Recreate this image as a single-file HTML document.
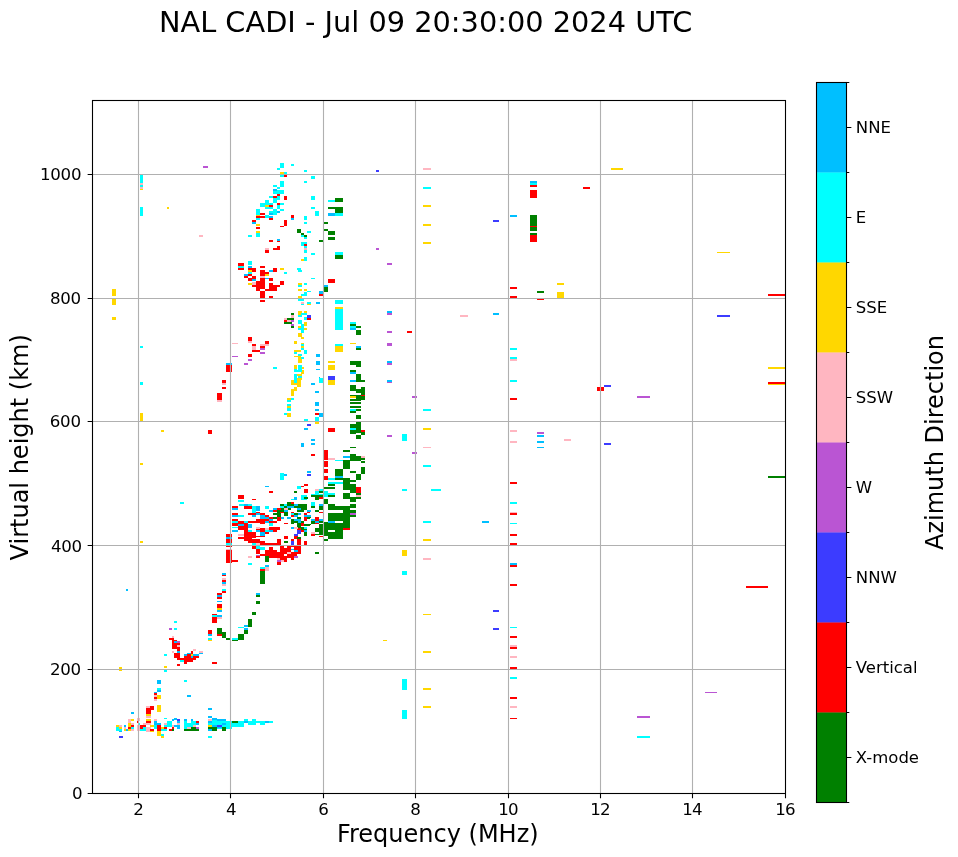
<!DOCTYPE html>
<html lang="en"><head><meta charset="utf-8"><title>NAL CADI ionogram</title>
<style>html,body{margin:0;padding:0;background:#fff}body{width:958px;height:857px;overflow:hidden}svg{display:block}text{font-family:"DejaVu Sans","Liberation Sans",sans-serif;fill:#000}</style></head><body>
<svg width="958" height="857" viewBox="0 0 958 857">
<rect width="958" height="857" fill="#fff"/>
<text x="425.6" y="32" font-size="28.8" text-anchor="middle">NAL CADI - Jul 09 20:30:00 2024 UTC</text>
<g shape-rendering="crispEdges">
<path fill="#00ffff" d="M116 727h6v4h-6z"/>
<path fill="#ffd700" d="M116 725h3v2h-3zM119 727h3v2h-3z"/>
<path fill="#ffb6c1" d="M119 725h3v2h-3z"/>
<path fill="#00bfff" d="M119 731h3v1h-3z"/>
<path fill="#3c3cff" d="M119 736h3.5v2h-3.5z"/>
<path fill="#00bfff" d="M124 725h2v2h-2zM125.5 729h2v2h-2z"/>
<path fill="#ffb6c1" d="M124 727h2v2h-2z"/>
<path fill="#ffd700" d="M124 729h2v2h-2z"/>
<path fill="#ffb6c1" d="M128 719h3v4h-3zM131 723h3v2h-3zM131 729h3v2h-3z"/>
<path fill="#ffd700" d="M131 719h3v2h-3zM128 723h3v4h-3zM128 729h3v2h-3z"/>
<path fill="#ff0000" d="M131 725h3v2h-3zM128 727h3v2h-3z"/>
<path fill="#00ffff" d="M131 727h3v2h-3z"/>
<path fill="#00bfff" d="M131 712h3v2h-3z"/>
<path fill="#ffb6c1" d="M137 718h3v3h-3zM137 725h3v6h-3zM143 723h3v2h-3z"/>
<path fill="#ff0000" d="M137 721h1.5v2h-1.5z"/>
<path fill="#00ffff" d="M138.5 723h1.5v2h-1.5z"/>
<path fill="#ff0000" d="M140 725h6v2h-6zM140 727h3v2h-3z"/>
<path fill="#00ffff" d="M143 727h3v4h-3zM140 729h3v2h-3z"/>
<path fill="#ffb6c1" d="M146 706h4.5v1.5h-4.5zM146 716h4.5v2h-4.5zM146 723h4.5v2h-4.5zM146 727h4.5v5h-4.5z"/>
<path fill="#ff0000" d="M146 707.5h4.5v6.5h-4.5zM150 706h4v4h-4zM146 721h4.5v2h-4.5zM150 729h4v2h-4z"/>
<path fill="#ffd700" d="M146 714h4.5v2h-4.5zM146 719h4.5v2h-4.5zM150 725h4v2h-4zM150 731h4v1h-4z"/>
<path fill="#00bfff" d="M154 692h3v1h-3zM157 690h4v2h-4z"/>
<path fill="#ff0000" d="M154 693h3v2h-3zM154 697h3v2h-3z"/>
<path fill="#ffb6c1" d="M154 695h3v2h-3zM154 699h3v2h-3z"/>
<path fill="#ffd700" d="M157 695h4v4h-4zM157 705h4v7h-4z"/>
<path fill="#ffb6c1" d="M154 719h3v2h-3z"/>
<path fill="#00bfff" d="M154 721h3v4h-3zM157 723h4v2h-4z"/>
<path fill="#00ffff" d="M154 725h3v4h-3z"/>
<path fill="#ff0000" d="M157 725h4v6h-4z"/>
<path fill="#ffd700" d="M157 731h4v5h-4zM161 736h3v2h-3zM161 727h3v2h-3z"/>
<path fill="#00ffff" d="M161 734h3v2h-3zM161 729h6v2h-6zM164 718h3v1h-3zM164 725h3v2h-3z"/>
<path fill="#ffb6c1" d="M164 723h3v2h-3z"/>
<path fill="#ff0000" d="M164 727h3v2h-3z"/>
<path fill="#00ffff" d="M167 721h5v6h-5z"/>
<path fill="#ff0000" d="M169 729h3v2h-3zM172 727h2v2h-2z"/>
<path fill="#008000" d="M172 729h2v2h-2z"/>
<path fill="#ffb6c1" d="M172 725h2v2h-2z"/>
<path fill="#00bfff" d="M172 719h2v2h-2zM174 718h3v1.5h-3z"/>
<path fill="#3c3cff" d="M177 719h3v2h-3z"/>
<path fill="#00bfff" d="M177 721h3v2h-3zM174 725h6v2h-6zM177 727h3v2h-3z"/>
<path fill="#ffb6c1" d="M177 723h3v2h-3z"/>
<path fill="#00bfff" d="M184 719h3v2h-3zM191 719h2v2h-2z"/>
<path fill="#00ffff" d="M184 721h3v8h-3zM187 723h4v4h-4zM191 721h5v4h-5zM191 725h2v4h-2z"/>
<path fill="#ff0000" d="M196 721h3v2h-3z"/>
<path fill="#00bfff" d="M196 723h3v2h-3z"/>
<path fill="#ffb6c1" d="M187 727h4v2h-4zM193 725h3v2h-3z"/>
<path fill="#ba55d3" d="M196 727h3v2h-3z"/>
<path fill="#008000" d="M184 729h15v2h-15zM191 727h5v2h-5z"/>
<path fill="#00bfff" d="M187 695h4v2h-4z"/>
<path fill="#00ffff" d="M212 719h5v2h-5zM212 721h18.5v4h-18.5zM212 725h18.5v4h-18.5zM230 721h14v6h-14zM230 727h2v2h-2z"/>
<path fill="#00bfff" d="M208 708h4v2h-4zM208 716h4v2h-4zM208 721h4v2h-4zM208 729h4v2h-4z"/>
<path fill="#ffb6c1" d="M208 719h4v2h-4z"/>
<path fill="#00ffff" d="M208 723h4v2h-4zM208 736h4v2h-4z"/>
<path fill="#ffd700" d="M208 725h4v2h-4z"/>
<path fill="#008000" d="M208 727h9v2h-9zM212 729h5v2h-5zM222 727h4v4h-4z"/>
<path fill="#00bfff" d="M212 718h5v1.5h-5zM217 719h9v2h-9zM222 723h4v2h-4zM212 725h5v2h-5zM217 727h5v1h-5z"/>
<path fill="#3c3cff" d="M217 725h5v2h-5z"/>
<path fill="#008000" d="M232 721h6v2h-6z"/>
<path fill="#00ffff" d="M244 719h4v2h-4zM248 721h8v4h-8zM252 719h4v2h-4zM256 721h4v2h-4zM260 721h5v4h-5zM269 721h4v2h-4z"/>
<path fill="#00bfff" d="M244 721h4v2h-4zM265 721h4v2h-4z"/>
<path fill="#ffd700" d="M119 667h3v4h-3zM164 666h3v1.5h-3z"/>
<path fill="#00bfff" d="M157 680h4v4h-4z"/>
<path fill="#00ffff" d="M157 688h4v2h-4zM164 654h3v2h-3zM164 670h3v1.5h-3zM184 680h3v2h-3zM174 621h3v2h-3zM174 628h3v2h-3z"/>
<path fill="#ba55d3" d="M169 628h3v2h-3z"/>
<path fill="#ffb6c1" d="M172 636h2v1.5h-2zM177 645h3v2h-3zM172 650.5h2v2h-2z"/>
<path fill="#ff0000" d="M169 638h5v2h-5zM172 640h5v9h-5zM174 643h6v2h-6zM177 647h3v4h-3zM174 652.5h6v5h-6zM177 658h7.5v2h-7.5zM177 664h3v2h-3z"/>
<path fill="#00bfff" d="M174 641h3v2h-3zM177 650.5h3v2h-3z"/>
<path fill="#ba55d3" d="M177 641h3v2h-3z"/>
<path fill="#00ffff" d="M180 660h4.5v2h-4.5z"/>
<path fill="#ff0000" d="M184 656h9v6h-9zM184 662h3v2h-3zM187 654h4v2h-4zM191 650.5h2v3h-2zM193 656h3v4h-3zM196 656h3v2h-3z"/>
<path fill="#00bfff" d="M184 654h3v2h-3zM187 653h4v1h-4zM191 656h2v2h-2zM193 654h6v2h-6zM199 653h4v1h-4z"/>
<path fill="#ffd700" d="M191 654h2v2h-2z"/>
<path fill="#ffb6c1" d="M193 649h3v2h-3zM199 650.5h4v2h-4z"/>
<path fill="#ff0000" d="M212 662h5v2h-5zM208 630h4v4h-4zM212 614h5v9h-5z"/>
<path fill="#00bfff" d="M208 634h4v2h-4z"/>
<path fill="#00ffff" d="M208 638h4v2h-4z"/>
<path fill="#ffd700" d="M208 640h4v1h-4z"/>
<path fill="#00ffff" d="M212 615h5v2h-5z"/>
<path fill="#00bfff" d="M217 615h3v2h-3z"/>
<path fill="#ffb6c1" d="M217 617h3v2h-3zM200 651h3v2h-3zM217 617h5v2h-5zM222 584h4v2h-4z"/>
<path fill="#00bfff" d="M200 653h3v1h-3z"/>
<path fill="#ff0000" d="M217 593h5v6h-5zM217 604h5v4h-5zM217 634h5v2h-5zM222 580h4v2h-4zM222 591h4v2h-4z"/>
<path fill="#00bfff" d="M217 595h5v2h-5zM217 601h5v1h-5zM217 610h5v2h-5zM217 615h5v2h-5zM222 582h4v2h-4z"/>
<path fill="#ffd700" d="M217 608h5v1.5h-5z"/>
<path fill="#00ffff" d="M222 589h4v2h-4zM232 638h6v2h-6zM238 627h6v1h-6z"/>
<path fill="#008000" d="M217 628h5v6h-5zM222 632h4v6h-4zM226 638h4.5v2h-4.5zM232 640h6v1h-6zM238 634h6v6h-6zM244 630h4v4h-4zM248 619h4v8h-4zM252 612h4v3h-4zM256 601h4v3h-4zM256 595h4v2h-4zM260 580h5v4h-5z"/>
<path fill="#00bfff" d="M244 625h4v2h-4zM244 628h4v2h-4zM256 593h4v2h-4z"/>
<path fill="#ff0000" d="M226 533.5h6v3.5h-6zM226 539h6v4h-6zM226 545h6v2h-6zM226 550h6v13h-6zM231.5 560h0.67119v1.5h-0.67119zM231.5 506h0.67119v2h-0.67119zM231.5 513h0.67119v1.5h-0.67119zM231.5 519h0.67119v1.5h-0.67119zM231.5 523h0.67119v3h-0.67119zM238 495h6v3.5h-6zM252 498.5h4v1h-4zM269 491h4v1.5h-4zM304 484h3.5v1.5h-3.5zM304 488.5h3.5v4h-3.5zM301 486h3v1h-3zM260 569.979h4.5v1.02088h-4.5zM222 574.5h3.5v1h-3.5z"/>
<path fill="#008000" d="M294 491h3v1.5h-3zM304 497h3.5v1.5h-3.5zM260 571h4.5v9h-4.5z"/>
<path fill="#00ffff" d="M297 486h4v3h-4zM301 495h6v5h-6zM291 498.5h3v1h-3z"/>
<path fill="#00bfff" d="M294 497h3v3h-3z"/>
<path fill="#00ffff" d="M231.5 521h0.67119v2h-0.67119zM231.5 526h0.67119v2h-0.67119z"/>
<path fill="#00bfff" d="M231.5 508h0.67119v1.5h-0.67119zM231.5 515h0.67119v1.5h-0.67119zM231.5 530h0.67119v2h-0.67119z"/>
<path fill="#ffb6c1" d="M264.5 569.979h4v1.02088h-4zM222 578h3.5v2h-3.5zM226 549h6v1h-6z"/>
<path fill="#00ffff" d="M226 543h6v2h-6z"/>
<path fill="#00bfff" d="M222 573h3.5v1.5h-3.5zM226 537h6v1.5h-6zM264.5 485.5h4v1h-4z"/>
<path fill="#008000" d="M304 497h3.5v1.5h-3.5z"/>
<path fill="#00ffff" d="M238 500h6v2h-6zM238.5 504h5.5v2h-5.5zM248 504h4v2h-4zM284 504h3.5v2h-3.5zM252 505.5h4v7h-4zM265 505.5h4v3.5h-4zM280 505.5h4v2h-4z"/>
<path fill="#008000" d="M287 502h4v3h-4zM280 504h4v2h-4zM287 504h6.5v2h-6.5zM297 504h10v5.5h-10zM284 505.5h3.5v2h-3.5zM294 505.5h3.5v2h-3.5zM280 507.5h4v4h-4zM287 507.5h4v2h-4zM277 509.5h3.5v7.5h-3.5zM297 509.5h6.5v2h-6.5zM284 511.5h3.5v4h-3.5z"/>
<path fill="#ff0000" d="M291 502h3v2h-3zM232 505.5h6v2h-6zM244 505.5h8v3.5h-8zM277 507.5h3.5v2h-3.5zM273 509.5h4v2h-4z"/>
<path fill="#00bfff" d="M244 504h4v2h-4zM294 504h3.5v2h-3.5zM256 505.5h4v5.5h-4zM287 505.5h6.5v2h-6.5zM232 507.5h6v2h-6zM273 507.5h4v2h-4zM297 507.5h4v2h-4zM269 509.5h4v2h-4zM284 509.5h3.5v2h-3.5zM307 509.5h3v2h-3z"/>
<path fill="#ffb6c1" d="M284 507.5h3.5v2h-3.5z"/>
<path fill="#ff0000" d="M256 511.5h4v1.5h-4zM280 511.5h4v1.5h-4zM291 511.5h3v1.5h-3zM307 511.5h3v1.5h-3zM232 513h6v2h-6zM248 513h8v2h-8zM260 513h5v2h-5zM304 513h3v2h-3zM265 515h4v2h-4zM291 515h3v2h-3z"/>
<path fill="#00bfff" d="M256 513h4v2h-4zM297 513h4v2h-4zM232 515h6v2h-6zM252 515h4v2h-4zM260 515h5v4h-5zM294 515h3.5v2h-3.5zM304 515h6v2h-6z"/>
<path fill="#008000" d="M273 513h4v2h-4zM294 513h3.5v2h-3.5zM273 517h4v2h-4zM297 517h4v2h-4zM307 517h3v2h-3z"/>
<path fill="#00ffff" d="M291 513h3v2h-3zM238 515h6v2h-6z"/>
<path fill="#00bfff" d="M265 517h4v2h-4zM280 517h4v2h-4zM287 517h4v2h-4zM269 519h4v2h-4zM294 519h7v2h-7zM265 520.5h4v2h-4zM297 520.5h4v2.5h-4z"/>
<path fill="#ff0000" d="M269 517h4v2h-4zM277 517h3.5v4h-3.5zM304 517h3v4h-3zM232 519h6v2h-6zM256 519h13v2h-13zM238 520.5h6v2h-6zM248 520.5h17v2h-17zM269 520.5h8v2h-8z"/>
<path fill="#008000" d="M291 519h3v4.5h-3zM294 520.5h3.5v2h-3.5zM301 520.5h3v2h-3zM297 523h4v5h-4zM304 523.5h6v2h-6zM301 526.5h3v4h-3zM304 528h3v2h-3z"/>
<path fill="#00ffff" d="M232 521h6v2h-6zM244 520.5h4v2h-4zM269 523h4v3h-4zM232 526.5h6v1.5h-6zM304 526.5h3v2h-3z"/>
<path fill="#ff0000" d="M232 522.5h6v3h-6zM238 522.5h10v7.5h-10zM260 522.5h5v1.5h-5zM284 523h3.5v1h-3.5zM301 523h3v3h-3zM269 526.5h11v3.5h-11zM256 528h9v4h-9zM297 528h4v2h-4z"/>
<path fill="#00bfff" d="M238 524h6v1.5h-6zM248 524h4v4h-4zM291 526.5h3v2h-3zM232 530h6v2h-6zM256 530h4v2h-4zM269 530h4v2h-4zM304 530h3v2h-3z"/>
<path fill="#ffb6c1" d="M256 526.5h4v2h-4zM294 526.5h3.5v2h-3.5zM265 528h4v2h-4zM238 534h6v2h-6z"/>
<path fill="#00ffff" d="M248 530h4v2h-4zM265 530h4v2h-4z"/>
<path fill="#ff0000" d="M273 530h4v2h-4zM301 530h3v2h-3zM244 530h4v2h-4zM244 532h12v5.5h-12zM265 532h4v2h-4zM256 535.5h9v1h-9zM284 536h3.5v3h-3.5zM294 535.5h3.5v3h-3.5z"/>
<path fill="#3c3cff" d="M297 530h4v4h-4zM294 534h3.5v2h-3.5zM291 541h3v4h-3zM291 545.5h3v1.5h-3z"/>
<path fill="#00bfff" d="M260 532h5v4h-5z"/>
<path fill="#008000" d="M304 532h3v4h-3zM297 537h4v1.5h-4zM284 541h3.5v2h-3.5z"/>
<path fill="#ff0000" d="M238 536.5h14v2h-14zM244 539h12v2h-12zM291 539h3v2h-3zM297 539h4v6.5h-4zM248 539h12v4h-12zM277 539h3.5v6.5h-3.5zM304 541h3v4h-3zM260 541h5v4h-5zM265 543h12v2h-12z"/>
<path fill="#00ffff" d="M252 543h4v2h-4z"/>
<path fill="#ffb6c1" d="M256 543h4v2h-4z"/>
<path fill="#ff0000" d="M252 546h4v3h-4zM269 546.5h4v4h-4zM280 546h14v4h-14zM294 546h7v7.5h-7zM256 549h4v4.5h-4zM265 549.5h12v2h-12zM280 550h11v2h-11zM265 552h36v2h-36zM265 553.5h18.5v2h-18.5zM287 554h10v1.5h-10z"/>
<path fill="#00ffff" d="M256 546h4v3h-4zM260 547h5v2.5h-5z"/>
<path fill="#00bfff" d="M291 549h3v1h-3zM294 550h3.5v2h-3.5z"/>
<path fill="#ffb6c1" d="M287 552h4v1.5h-4zM248 556h4v1.5h-4zM277 558h3.5v1.5h-3.5zM280 560h4v1.5h-4zM265 567h4v3h-4z"/>
<path fill="#ba55d3" d="M256 554.5h4v1.5h-4zM294 556h3.5v1.5h-3.5zM277 560h3.5v1.5h-3.5z"/>
<path fill="#ff0000" d="M260 554h5v2h-5zM269 555.5h25v2h-25zM291 557.5h3v2h-3zM256 556h4v1.5h-4zM280 557.5h6.5v2.5h-6.5zM284 560h3v1.5h-3zM277 562h3.5v3h-3.5zM232 560h6v1.5h-6zM260 569h5v1h-5z"/>
<path fill="#008000" d="M265 556h4v6h-4z"/>
<path fill="#00ffff" d="M248 562.5h4v2h-4zM260 567h5v2h-5z"/>
<path fill="#00bfff" d="M265 565h4v1.5h-4z"/>
<path fill="#ffffff" d="M273 547h7v2h-7zM277 550h3v2h-3zM284 546h3v1.5h-3zM291 547h2.5v2h-2.5z"/>
<path fill="#00bfff" d="M307 471h4v1.5h-4z"/>
<path fill="#3c3cff" d="M307 474h4v1.5h-4z"/>
<path fill="#ff0000" d="M324 470h4v3h-4zM324 476h4v4h-4z"/>
<path fill="#008000" d="M335 470h8v3.5h-8zM350 471h6v2h-6zM361 470h4v3.5h-4zM356 473.5h5v6.5h-5zM335 474h8v1.5h-8zM335 478h15v2h-15z"/>
<path fill="#00bfff" d="M335 476h8v2h-8z"/>
<path fill="#00ffff" d="M328 478h7v2h-7zM328 481.5h15v2h-15z"/>
<path fill="#008000" d="M343 480h7v9.5h-7zM350 480h6v1.5h-6zM350 484h6v8.5h-6zM328 484h7v1.5h-7zM324 487h11v1.5h-11z"/>
<path fill="#ff0000" d="M356 487h5v6h-5z"/>
<path fill="#008000" d="M356 492.5h5v2h-5zM350 497h10.5v1.5h-10.5zM350 498.5h6v3.5h-6zM343 492.5h7v6.5h-7zM328 495h7v1.5h-7z"/>
<path fill="#ffb6c1" d="M356 494.5h5v2h-5z"/>
<path fill="#00ffff" d="M324 491h4v6h-4zM328 492.5h7v2.5h-7z"/>
<path fill="#008000" d="M324 499h4v4.5h-4zM328 504h7v6h-7zM335 505.5h15v4h-15zM350 504h6v3.5h-6zM350 509.5h6v3h-6zM350 515h6v1.5h-6z"/>
<path fill="#ba55d3" d="M350 513h6v2h-6z"/>
<path fill="#008000" d="M343 509.5h7v18.5h-7zM328 512.5h15v8h-15zM324 521.5h4v14.5h-4zM328 523h15v15.5h-15zM324 539h4v1.5h-4zM335 520.5h8v2.5h-8z"/>
<path fill="#ffffff" d="M328 529.5h7v2h-7z"/>
<path fill="#00bfff" d="M328 521h7v2h-7z"/>
<path fill="#ff0000" d="M343 528h7v1.5h-7z"/>
<path fill="#ffb6c1" d="M315 489h4v1.5h-4zM311 532h4v1.5h-4z"/>
<path fill="#00ffff" d="M319 489h4v1.5h-4zM315 491h4v2.5h-4zM311 493.5h12v1.5h-12zM311 502h4v3.5h-4z"/>
<path fill="#008000" d="M319 491h4v1.5h-4zM311 495h12v1.5h-12zM315 497h4v2.5h-4zM311 506h4v1.5h-4zM319 505.5h4v4h-4zM315 510h4v1.5h-4z"/>
<path fill="#ff0000" d="M319 497h4v1.5h-4zM319 512h4v1h-4zM315 516.5h4v4h-4zM315 523h4v1h-4zM311 533.5h4v2h-4zM319 536h4v1h-4z"/>
<path fill="#00bfff" d="M319 504h4v1.5h-4zM311 519h4v2h-4zM319 519h4v2h-4zM315 521h4v2h-4zM307 510h4v1.5h-4zM307 515h4v1.5h-4z"/>
<path fill="#008000" d="M311 521h4v2.5h-4zM319 521h4v2h-4zM319 524h4v11h-4zM315 528h4v4h-4zM315 533.5h4v1h-4zM315 552h4v2h-4zM307 516.5h4v1.5h-4zM307 523.5h4v1.5h-4z"/>
<path fill="#ffd700" d="M402 550h5v6h-5z"/>
<path fill="#00ffff" d="M402 489h5v2h-5z"/>
<path fill="#ffffff" d="M335 521h8v2h-8zM324 536h4v3h-4z"/>
<path fill="#00ffff" d="M294 370h7v1.5h-7zM294 373.5h3v9h-3zM291 398h3v2h-3zM287 399.5h4v2h-4zM287 404h4v2h-4zM287 408h4v3h-4zM284 413h3v2h-3z"/>
<path fill="#ffd700" d="M301 370h3v3.5h-3zM297 373.5h4v2h-4zM297 378h4v9h-4zM291 380h6v5h-6zM294 387h3v4h-3zM291 389h3v6.5h-3zM287 398h4v2h-4zM287 406h4v2h-4zM287 413h4v4h-4z"/>
<path fill="#00ffff" d="M319 378h4v5h-4zM315 417h4v4.5h-4zM304 419h3.5v2h-3.5z"/>
<path fill="#00bfff" d="M311 383h4v2h-4zM315 391h4v2h-4zM315 402h4v4h-4zM315 409h4v1.5h-4zM319 413h4v4h-4zM304 428h3.5v1.5h-3.5zM311 439h4v2h-4zM311 443h4v2h-4zM301 443h3v4h-3z"/>
<path fill="#ff0000" d="M315 413h4v2h-4zM311 454h4v2h-4zM328 428h7v4h-7zM324 450h4v10h-4zM324 461h4v6h-4zM324 469h4v1h-4z"/>
<path fill="#ffd700" d="M315 422h4v2h-4zM328 380h7v5h-7z"/>
<path fill="#3c3cff" d="M307 424h3.5v2h-3.5zM328 376h7v4h-7z"/>
<path fill="#ffb6c1" d="M328 458h7v2h-7z"/>
<path fill="#00ffff" d="M335 460h8v1h-8z"/>
<path fill="#008000" d="M335 469h8v1h-8zM350 370h6v1.5h-6zM356 373.5h5v8h-5zM361 380h4v2h-4zM350 385h6v6h-6zM356 389h5v3.5h-5zM361 387h4v8h-4zM350 395h11v1h-11zM356 396h9v4h-9zM350 399h11v2h-11zM350 402h11v1.5h-11zM350 406h11v1.5h-11zM356 409h5v1.5h-5zM350 411h6v2h-6zM356 415h5v4h-5z"/>
<path fill="#00bfff" d="M350 371.5h6v2h-6zM350 380h6v2h-6z"/>
<path fill="#ff0000" d="M361 394.5h4v1h-4zM361 429.5h4v2h-4z"/>
<path fill="#ffd700" d="M350 396h6v2h-6z"/>
<path fill="#00ffff" d="M350 409h6v1.5h-6z"/>
<path fill="#008000" d="M356 422h5v11h-5zM350 424h6v10h-6zM361 432h4v3h-4zM356 435h5v4h-5z"/>
<path fill="#00ffff" d="M350 428h6v1.5h-6z"/>
<path fill="#008000" d="M350 447h6v1h-6zM343 450h7v2h-7zM350 454h6v7h-6zM356 456h5v5h-5zM361 458h4v1.5h-4zM361 461h4v2h-4zM343 460h7v9h-7zM361 467h4v3h-4z"/>
<path fill="#00bfff" d="M343 456h7v2h-7z"/>
<path fill="#ffb6c1" d="M361 456h4v2h-4z"/>
<path fill="#00ffff" d="M294 380h3v3h-3z"/>
<path fill="#ff0000" d="M222 380h4v3h-4zM222 387h4v2h-4zM217 393h5v7h-5zM208 430h4v4h-4z"/>
<path fill="#ffb6c1" d="M222 383h4v1.5h-4zM217 400h5v2h-5z"/>
<path fill="#00ffff" d="M280 473h4v7h-4z"/>
<path fill="#00bfff" d="M284 474h3v2h-3z"/>
<path fill="#ffd700" d="M248 270h4v2h-4zM265 274h4v2h-4zM248 283h4v2h-4z"/>
<path fill="#ff0000" d="M252 270h4v2h-4zM260 270h5v6h-5zM273 270h4v2h-4zM248 274h4v2h-4zM244 276h4v2h-4zM252 276h4v4h-4zM248 277.5h4v3h-4zM265 272h4v2h-4zM269 277.5h4v3h-4zM260 277.5h5v3h-5z"/>
<path fill="#00bfff" d="M269 270h4v2h-4zM244 274h4v2h-4zM252 279h4v2h-4zM265 277.5h4v1.5h-4z"/>
<path fill="#00ffff" d="M248 272h4v2h-4zM284 272h3v2h-3z"/>
<path fill="#ffb6c1" d="M260 276h5v2h-5zM252 281.5h4v3h-4z"/>
<path fill="#ff0000" d="M256 281h9v7.5h-9zM256 288.5h4v2h-4zM252 285h4v2h-4zM269 283h4v7.5h-4zM273 285h4v6h-4zM276.5 285h3v2h-3zM280 281h4v4h-4zM265 288.5h4v2.5h-4zM260 290.5h5v7h-5zM269 295.5h4v2h-4zM260 300h5v2h-5z"/>
<path fill="#00ffff" d="M297.5 270h4v2h-4zM311 278h4v1h-4zM297.5 285h4v2h-4zM304 283h3v2h-3zM307 291h4v1h-4zM304 292h3v2h-3zM301 293.5h6v2h-6zM297.5 299h6.5v1.5h-6.5zM301 304h3v1h-3zM307 302h4v2h-4z"/>
<path fill="#ffd700" d="M297.5 283h4v2h-4zM297.5 289h4v2h-4zM304 289h3v2h-3zM297.5 295.5h4v3h-4zM307 304h4v1h-4z"/>
<path fill="#ffb6c1" d="M301 302h3v2h-3z"/>
<path fill="#00bfff" d="M315.5 302h4v2h-4zM319 291h1v2.5h-1z"/>
<path fill="#ff0000" d="M319 293.5h1v2h-1z"/>
<path fill="#ffd700" d="M297.5 311h4v4h-4zM304 311h3v2h-3zM304 322h3v4h-3zM297.5 326h4v2h-4zM304 328h3v2h-3zM297.5 333h4v4h-4zM301 336.5h3v2h-3z"/>
<path fill="#00ffff" d="M301 313h6v2h-6zM297.5 315h4v2h-4zM304 317h3v3h-3zM297.5 320h4v4h-4zM301 324h3v9h-3zM297.5 328h4v2h-4z"/>
<path fill="#3c3cff" d="M307 315h4v3h-4z"/>
<path fill="#ff0000" d="M307 317.5h4v2h-4z"/>
<path fill="#ffd700" d="M294 341h3v3h-3zM301 343h3v1.5h-3zM301 345.5h3v2h-3zM294 350h7v2h-7zM294 355.5h7v1h-7zM297.5 357h4v6h-4zM294 365h3v4h-3zM301 367h3v2h-3zM301 370h3v4h-3zM297.5 374h4v2h-4zM297.5 378h4v2h-4z"/>
<path fill="#00ffff" d="M301 344h3v2h-3zM301 347.5h3v2h-3zM294 352h3v2h-3zM304 350h3v4h-3zM297.5 353.5h4v2h-4zM301 357h3v2h-3zM297.5 365h4v6.5h-4zM294 369h3v2.5h-3zM294 374h3v6h-3zM297.5 376h4v2h-4z"/>
<path fill="#00bfff" d="M315.5 353.5h4v3.5h-4zM315.5 361h4v4h-4zM315.5 369h4v1h-4zM319 376.5h1v2.5h-1z"/>
<path fill="#008000" d="M291 313h3v2h-3zM287 318h7v1.5h-7zM284 322h7.5v2h-7.5zM291 326h3v2h-3z"/>
<path fill="#ffb6c1" d="M291 315h3v3h-3zM284 318h3v1.5h-3zM287 320h4v1.5h-4z"/>
<path fill="#ff0000" d="M284 320h3v2h-3z"/>
<path fill="#ba55d3" d="M291 320h3v2h-3zM291 324h3v2h-3z"/>
<path fill="#ff0000" d="M248 336.5h4v4h-4zM252 344h4v2h-4zM252 349.5h8v2h-8zM260 345.5h5v2.5h-5zM265 341h4v3h-4zM248 353.5h4v3h-4zM226 365h6v7h-6z"/>
<path fill="#ffb6c1" d="M248 340.5h4v2h-4zM252 345.5h4v4h-4zM260 344h9v2h-9zM232 343h6v1h-6z"/>
<path fill="#ba55d3" d="M260 348h5v2h-5zM260 352h5v2h-5zM248 359h4v2h-4zM244 363h4v2h-4zM232 356h6v1h-6z"/>
<path fill="#00bfff" d="M226 363h6v2h-6z"/>
<path fill="#00ffff" d="M273 367h4v2h-4zM280 163h4v5h-4zM277 168h3v2h-3zM291 164h3v2h-3zM284 172h3v2h-3zM280 175h4v2h-4zM304 170h3v2h-3zM311 175.5h4v3.5h-4zM304 181h3v2h-3z"/>
<path fill="#ffd700" d="M280 172h4v2h-4z"/>
<path fill="#ff0000" d="M284 175h3v1.5h-3z"/>
<path fill="#00ffff" d="M280 181h4v6h-4zM273 185h4v2h-4zM277 187h3v2h-3zM273 190h11v4h-11zM269 196h4v2h-4zM277 196h3v4h-3zM273 198h4v5h-4zM265 200h4v3h-4zM260 203h13v4h-13zM280 203h4v2h-4zM265 207h8v2h-8zM277 205h3v4h-3zM280 209h4v1.5h-4zM273 209h4v5.5h-4zM269 210.5h4v2h-4zM256 209h4v6h-4zM265 215h4v3h-4zM256 218h4v2h-4zM256 233h4v4h-4zM248 235h4v2h-4z"/>
<path fill="#00bfff" d="M273 189h4v1.5h-4zM277 211h3v2h-3zM269 213h4v1.5h-4zM269 216h4v2h-4zM252 222h4v2h-4z"/>
<path fill="#ff0000" d="M277 194h3v2h-3zM273 196h4v2h-4zM284 196h3v4h-3zM277 203h3v2h-3zM269 205h4v2h-4zM260 213h4.5v2h-4.5zM256 216h9v2h-9zM269 218h4v2h-4zM252 220h4v2h-4zM256 227h4v2h-4z"/>
<path fill="#ffd700" d="M265 205h4v2h-4zM256 215h4v1h-4zM256 224h4v2h-4zM256 231h4v2h-4z"/>
<path fill="#ff0000" d="M291 215h3v3h-3zM284 220h3v6h-3zM280 226h4v1h-4z"/>
<path fill="#00bfff" d="M291 218h3v2h-3z"/>
<path fill="#00ffff" d="M311 196h4v4h-4zM311 207h4v2h-4zM315 211h4v5h-4zM304 216h3v4h-3zM304 222h3v2h-3z"/>
<path fill="#008000" d="M297 229h4v4h-4zM301 233h3v2h-3zM304 235h3v2h-3z"/>
<path fill="#00ffff" d="M307 231h4v2h-4zM301 235h3v2h-3zM304 237h3v2h-3zM301 242h6v4h-6zM304 245.5h3v2h-3zM304 250h3v3h-3zM311 253h4v2h-4zM304 257h3v4h-3zM297 268h4v2h-4z"/>
<path fill="#ff0000" d="M304 244h3v2h-3z"/>
<path fill="#ffb6c1" d="M304 248h3v2h-3zM265 248h4v2h-4z"/>
<path fill="#ffd700" d="M301 259h3v2h-3zM280 268h4v2h-4z"/>
<path fill="#ff0000" d="M269 240h4v2h-4zM277 240h3v2h-3zM277 245.5h3v4h-3zM273 248h4v2h-4zM265 250h4v3h-4z"/>
<path fill="#00bfff" d="M277 239h3v1.5h-3z"/>
<path fill="#ff0000" d="M238 262.5h6v3h-6zM238 268h6v2h-6zM248 268h8v2h-8zM260 266h4.5v2h-4.5zM273 268h4v2h-4z"/>
<path fill="#00ffff" d="M238 266h6v2h-6zM248 261h4v4h-4z"/>
<path fill="#00bfff" d="M248 266h4v2h-4z"/>
<path fill="#00ffff" d="M328 200h7v2h-7zM335 213h5v3h-5zM335 252h5v3h-5z"/>
<path fill="#008000" d="M335 198h5v4h-5zM328 207h12v2h-12zM335 209h5v4h-5zM324 222h4v2h-4zM324 229h4v2h-4zM328 231h7v4h-7zM328 237h7v3h-7zM319 240h4v2h-4zM335 255h5v4h-5z"/>
<path fill="#00bfff" d="M328 213h7v3h-7z"/>
<path fill="#008000" d="M335 198h8v4h-8zM335 207h8v6h-8zM335 255h8v4h-8z"/>
<path fill="#00ffff" d="M335 213h8v3h-8zM335 252h8v3h-8z"/>
<path fill="#3c3cff" d="M376 170h3v2h-3z"/>
<path fill="#ba55d3" d="M376 248h3v2h-3zM387 263h5v2h-5z"/>
<path fill="#00bfff" d="M319 291h4v2.5h-4zM324 285h4v2h-4z"/>
<path fill="#ff0000" d="M319 293.5h4v2h-4zM328 279h7v4h-7z"/>
<path fill="#008000" d="M324 287h4v5h-4z"/>
<path fill="#00ffff" d="M335 300h8v4h-8zM335 309h8v21h-8zM335 344h8v2h-8zM319 378h4v2h-4z"/>
<path fill="#ffd700" d="M335 307h8v2h-8zM335 346h8v6h-8zM328 361h7v2h-7zM328 365h7v5h-7z"/>
<path fill="#3c3cff" d="M328 376h7v4h-7z"/>
<path fill="#00ffff" d="M350 322h6v2h-6zM350 326h6v2h-6z"/>
<path fill="#008000" d="M350 324h6v2h-6zM356 326h5v2h-5zM356 330h5v5h-5zM356 348h5v2h-5zM350 361h11v4h-11zM356 365h5v2h-5zM350 370h6v2h-6zM356 374h5v6h-5z"/>
<path fill="#00bfff" d="M350 328h6v2h-6zM356 346h5v2h-5zM350 372h6v2h-6zM387 311h5v2h-5zM387 361h5v2h-5z"/>
<path fill="#ffd700" d="M350 343h6v1h-6z"/>
<path fill="#ba55d3" d="M387 313h5v2h-5zM387 331h5v2h-5zM387 343h5v3h-5zM387 362.5h5v2.5h-5z"/>
<path fill="#ff0000" d="M407 331h5v2h-5z"/>
<path fill="#00bfff" d="M387 380h5v2h-5z"/>
<path fill="#ba55d3" d="M387 382h5v1h-5zM412 396h5v2h-5zM387 435h5v2h-5zM412 452h5v2h-5z"/>
<path fill="#00ffff" d="M402 434h4.5v7h-4.5zM402 489h4.5v1h-4.5z"/>
<path fill="#ba55d3" d="M203 166h5v2h-5z"/>
<path fill="#00ffff" d="M140 175h3v8h-3zM140 185h3v2.5h-3zM140 207h3v8.5h-3z"/>
<path fill="#ffb6c1" d="M140 183h3v1.5h-3zM140 187h3v1.5h-3zM199 235h4v2h-4z"/>
<path fill="#ffd700" d="M140 189h3v1h-3zM167 207h2v2h-2zM112 288.5h4v7h-4zM112 298.5h4v6.5h-4zM112 317h4v3h-4z"/>
<path fill="#00ffff" d="M140 346h3v2h-3zM140 382h3v3h-3z"/>
<path fill="#ffd700" d="M140 413h3v7.5h-3zM161 430h3v2h-3zM140 463h3v1.5h-3zM140 541h3v1.5h-3z"/>
<path fill="#00ffff" d="M180 502h3.5v2h-3.5z"/>
<path fill="#00bfff" d="M126 589h2v2h-2z"/>
<path fill="#ffb6c1" d="M422.5 167.5h8.5v2h-8.5zM460 315h8v2h-8z"/>
<path fill="#00ffff" d="M422.5 187h8.5v2h-8.5zM530 183h7v1.5h-7z"/>
<path fill="#ffd700" d="M422.5 205h8.5v2h-8.5zM422.5 224h8.5v2h-8.5zM422.5 242h8.5v2h-8.5zM557 283h7v2h-7zM557 292h7v6h-7z"/>
<path fill="#3c3cff" d="M493 220h5.5v2h-5.5z"/>
<path fill="#00bfff" d="M509.5 215h7.5v1.5h-7.5zM530 181h7v2h-7zM493 313h5.5v2h-5.5z"/>
<path fill="#ff0000" d="M530 184.5h7v2h-7zM530 190h7v8h-7zM530 235h7v7h-7zM583 187h6.5v2h-6.5zM509.5 287h7.5v2h-7.5zM509.5 296h7.5v2h-7.5zM537 299h7v1h-7z"/>
<path fill="#008000" d="M530 215h7v16h-7zM530 233h7v2h-7zM537 291h7v1.5h-7z"/>
<path fill="#ff0000" d="M530 225.5h7v1.5h-7z"/>
<path fill="#00ffff" d="M422.5 409h8.5v2h-8.5zM422.5 465h8.5v2h-8.5zM431 489h10v1h-10zM509.5 348h7.5v2h-7.5zM509.5 357h7.5v2h-7.5zM509.5 380h7.5v2h-7.5z"/>
<path fill="#ffd700" d="M422.5 428h8.5v2h-8.5z"/>
<path fill="#ffb6c1" d="M422.5 447h8.5v1h-8.5zM509.5 359h7.5v2h-7.5zM509.5 430h7.5v2h-7.5zM509.5 441h7.5v2h-7.5zM564 439h7v2h-7z"/>
<path fill="#ff0000" d="M509.5 398h7.5v2h-7.5zM509.5 482h7.5v2h-7.5zM597 387h3v4h-3z"/>
<path fill="#ba55d3" d="M537 432h7v2h-7z"/>
<path fill="#00bfff" d="M537 435h7v2h-7zM537 441h7v2h-7zM537 447h7v1h-7z"/>
<path fill="#00ffff" d="M402 489h5v2h-5zM431 489h10v2h-10zM422.5 521h8.5v2h-8.5zM402 571h5v4h-5zM509.5 502h7.5v2h-7.5zM509.5 523h7.5v1h-7.5zM509.5 627h7.5v1h-7.5z"/>
<path fill="#00bfff" d="M482 521h7v2h-7zM509.5 563h7.5v2h-7.5z"/>
<path fill="#ffd700" d="M422.5 539h8.5v2h-8.5zM422.5 614h8.5v1h-8.5zM422.5 651h8.5v2h-8.5z"/>
<path fill="#ffb6c1" d="M422.5 558h8.5v2h-8.5zM509.5 512h7.5v1h-7.5zM509.5 645h7.5v1.5h-7.5zM509.5 656h7.5v2h-7.5z"/>
<path fill="#3c3cff" d="M493 610h5.5v2h-5.5zM493 628h5.5v2h-5.5z"/>
<path fill="#ff0000" d="M509.5 482h7.5v2h-7.5zM509.5 513h7.5v2h-7.5zM509.5 534h7.5v2h-7.5zM509.5 543h7.5v2h-7.5zM509.5 565h7.5v2h-7.5zM509.5 584h7.5v2h-7.5zM509.5 636h7.5v2h-7.5zM509.5 646.5h7.5v2.5h-7.5z"/>
<path fill="#ffd700" d="M383 640h4v1h-4zM423 688h8v2h-8zM423 706h8v2h-8z"/>
<path fill="#00ffff" d="M402 679h5v11h-5zM402 710h5v9h-5zM510 677h7v2h-7z"/>
<path fill="#ff0000" d="M510 667h7v2h-7zM510 697h7v2h-7zM510 718h7v1h-7z"/>
<path fill="#ffb6c1" d="M510 706h7v2h-7z"/>
<path fill="#ffd700" d="M611 168h12v2h-12zM717 252h13v1h-13z"/>
<path fill="#ff0000" d="M768 294h17v2h-17z"/>
<path fill="#3c3cff" d="M717 315h13v2h-13z"/>
<path fill="#ffd700" d="M768 367h17v2h-17zM768 383h17v2h-17z"/>
<path fill="#ff0000" d="M768 382h17v1.5h-17zM597 387h7v4h-7z"/>
<path fill="#3c3cff" d="M604 385h7v2h-7zM604 443h7v2h-7z"/>
<path fill="#ba55d3" d="M637 396h13v2h-13z"/>
<path fill="#008000" d="M768 476h17v2h-17z"/>
<path fill="#ff0000" d="M746 585.5h22v2h-22z"/>
<path fill="#ba55d3" d="M705 691.5h12v1h-12zM637 715.5h12.5v2h-12.5z"/>
<path fill="#00ffff" d="M637 735.5h12.5v2h-12.5z"/>
</g>
<path d="M138.50 100.5V793.5M230.50 100.5V793.5M323.50 100.5V793.5M415.50 100.5V793.5M508.50 100.5V793.5M600.50 100.5V793.5M692.50 100.5V793.5M92.5 669.50H785.5M92.5 545.50H785.5M92.5 421.50H785.5M92.5 298.50H785.5M92.5 174.50H785.5" stroke="#b0b0b0" stroke-width="1.1" fill="none"/>
<path d="M138.50 793.5v4.86M230.50 793.5v4.86M323.50 793.5v4.86M415.50 793.5v4.86M508.50 793.5v4.86M600.50 793.5v4.86M692.50 793.5v4.86M785.50 793.5v4.86M92.5 793.50h-4.86M92.5 669.50h-4.86M92.5 545.50h-4.86M92.5 421.50h-4.86M92.5 298.50h-4.86M92.5 174.50h-4.86" stroke="#000" stroke-width="1.1" fill="none"/>
<rect x="92.5" y="100.5" width="693.0" height="693.0" fill="none" stroke="#000" stroke-width="1.1"/>
<text x="138.50" y="815" font-size="16.67" text-anchor="middle">2</text>
<text x="231.30" y="815" font-size="16.67" text-anchor="middle">4</text>
<text x="323.50" y="815" font-size="16.67" text-anchor="middle">6</text>
<text x="415.50" y="815" font-size="16.67" text-anchor="middle">8</text>
<text x="508.10" y="815" font-size="16.67" letter-spacing="-0.8" text-anchor="middle">10</text>
<text x="600.10" y="815" font-size="16.67" letter-spacing="-0.8" text-anchor="middle">12</text>
<text x="692.10" y="815" font-size="16.67" letter-spacing="-0.8" text-anchor="middle">14</text>
<text x="785.10" y="815" font-size="16.67" letter-spacing="-0.8" text-anchor="middle">16</text>
<text x="82.20" y="798.70" font-size="16.67" letter-spacing="-0.3" text-anchor="end">0</text>
<text x="80.80" y="674.70" font-size="16.67" letter-spacing="-0.3" text-anchor="end">200</text>
<text x="81.80" y="551.60" font-size="16.67" letter-spacing="-0.3" text-anchor="end">400</text>
<text x="80.70" y="427.30" font-size="16.67" letter-spacing="-0.3" text-anchor="end">600</text>
<text x="80.90" y="303.70" font-size="16.67" letter-spacing="-0.3" text-anchor="end">800</text>
<text x="81.20" y="179.70" font-size="16.67" letter-spacing="-0.3" text-anchor="end">1000</text>
<text x="437.8" y="841.5" font-size="24" text-anchor="middle">Frequency (MHz)</text>
<text transform="translate(28,447.3) rotate(-90)" font-size="24" text-anchor="middle">Virtual height (km)</text>
<rect x="816.5" y="82.5" width="30.0" height="90.3" fill="#00bfff"/>
<rect x="816.5" y="172.5" width="30.0" height="90.3" fill="#00ffff"/>
<rect x="816.5" y="262.5" width="30.0" height="90.3" fill="#ffd700"/>
<rect x="816.5" y="352.5" width="30.0" height="90.3" fill="#ffb6c1"/>
<rect x="816.5" y="442.5" width="30.0" height="90.3" fill="#ba55d3"/>
<rect x="816.5" y="532.5" width="30.0" height="90.3" fill="#3c3cff"/>
<rect x="816.5" y="622.5" width="30.0" height="90.3" fill="#ff0000"/>
<rect x="816.5" y="712.5" width="30.0" height="90.3" fill="#008000"/>
<path d="M846.5 82.5h2.78M846.5 172.5h2.78M846.5 262.5h2.78M846.5 352.5h2.78M846.5 442.5h2.78M846.5 532.5h2.78M846.5 622.5h2.78M846.5 712.5h2.78M846.5 802.5h2.78M846.5 127.5h4.86M846.5 217.5h4.86M846.5 307.5h4.86M846.5 397.5h4.86M846.5 487.5h4.86M846.5 577.5h4.86M846.5 667.5h4.86M846.5 757.5h4.86" stroke="#000" stroke-width="1.1" fill="none"/>
<rect x="816.5" y="82.5" width="30.0" height="720" fill="none" stroke="#000" stroke-width="1.1"/>
<text x="855.8" y="132.60" font-size="16.5">NNE</text>
<text x="855.8" y="222.60" font-size="16.5">E</text>
<text x="855.8" y="312.60" font-size="16.5">SSE</text>
<text x="855.8" y="402.60" font-size="16.5">SSW</text>
<text x="855.8" y="492.60" font-size="16.5">W</text>
<text x="855.8" y="582.60" font-size="16.5">NNW</text>
<text x="855.8" y="672.60" font-size="16.5">Vertical</text>
<text x="855.8" y="762.60" font-size="16.5">X-mode</text>
<text transform="translate(942.6,442.5) rotate(-90)" font-size="24" text-anchor="middle">Azimuth Direction</text>
</svg></body></html>
